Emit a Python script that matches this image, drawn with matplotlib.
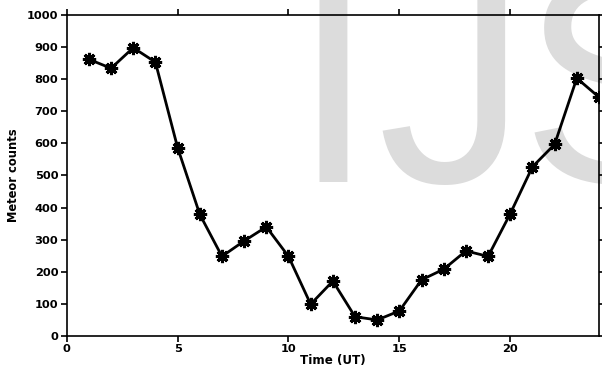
import matplotlib
matplotlib.use("Agg")
import matplotlib.pyplot as plt

hours = list(range(1, 25))
counts = [862, 834, 898, 853, 587, 379, 248, 296, 340, 248, 99, 171,
          60, 50, 78, 175, 208, 265, 248, 381, 527, 597, 803, 744]
x_ticks = [0, 5, 10, 15, 20]
y_ticks = list(range(0, 1001, 100))

plt.rcParams['font.family'] = ['DejaVu Sans']

fig = plt.figure(figsize=(6.02, 3.72), dpi=100)
ax = fig.add_axes([0.1108, 0.0968, 0.995 - 0.1108, 0.9597 - 0.0968])
ax.set_zorder(2)
ax.set_facecolor("none")

# background watermark letters
wm = dict(fontsize=215, color="#dcdcdc", ha="left", va="baseline",
          zorder=0, family="Liberation Sans")
fig.text(0.485, 0.512, "I", **wm)
fig.text(0.627, 0.512, "J", **wm)
fig.text(0.864, 0.512, "S", **wm)

ax.plot(hours, counts, color="black", lw=2, zorder=3)
ax.plot(hours, counts, linestyle="none", marker=(8, 2, 0), ms=9.5,
        mec="black", mew=2.2, zorder=4)

ax.set_xlim(0, 24)
ax.set_ylim(0, 1000)
ax.set_xticks(x_ticks)
ax.set_yticks(y_ticks)
for lab in ax.get_xticklabels() + ax.get_yticklabels():
    lab.set_fontweight("bold")
ax.tick_params(axis="both", direction="out", length=4, width=1.2,
               labelsize=8.2, top=True, right=True, pad=2)
for s in ax.spines.values():
    s.set_linewidth(1.2)

ax.set_xlabel("Time (UT)", fontsize=8.6, fontweight="bold", labelpad=0)
ax.set_ylabel("Meteor counts", fontsize=8.3, fontweight="bold", labelpad=5)

fig.savefig("out.png", dpi=100)
